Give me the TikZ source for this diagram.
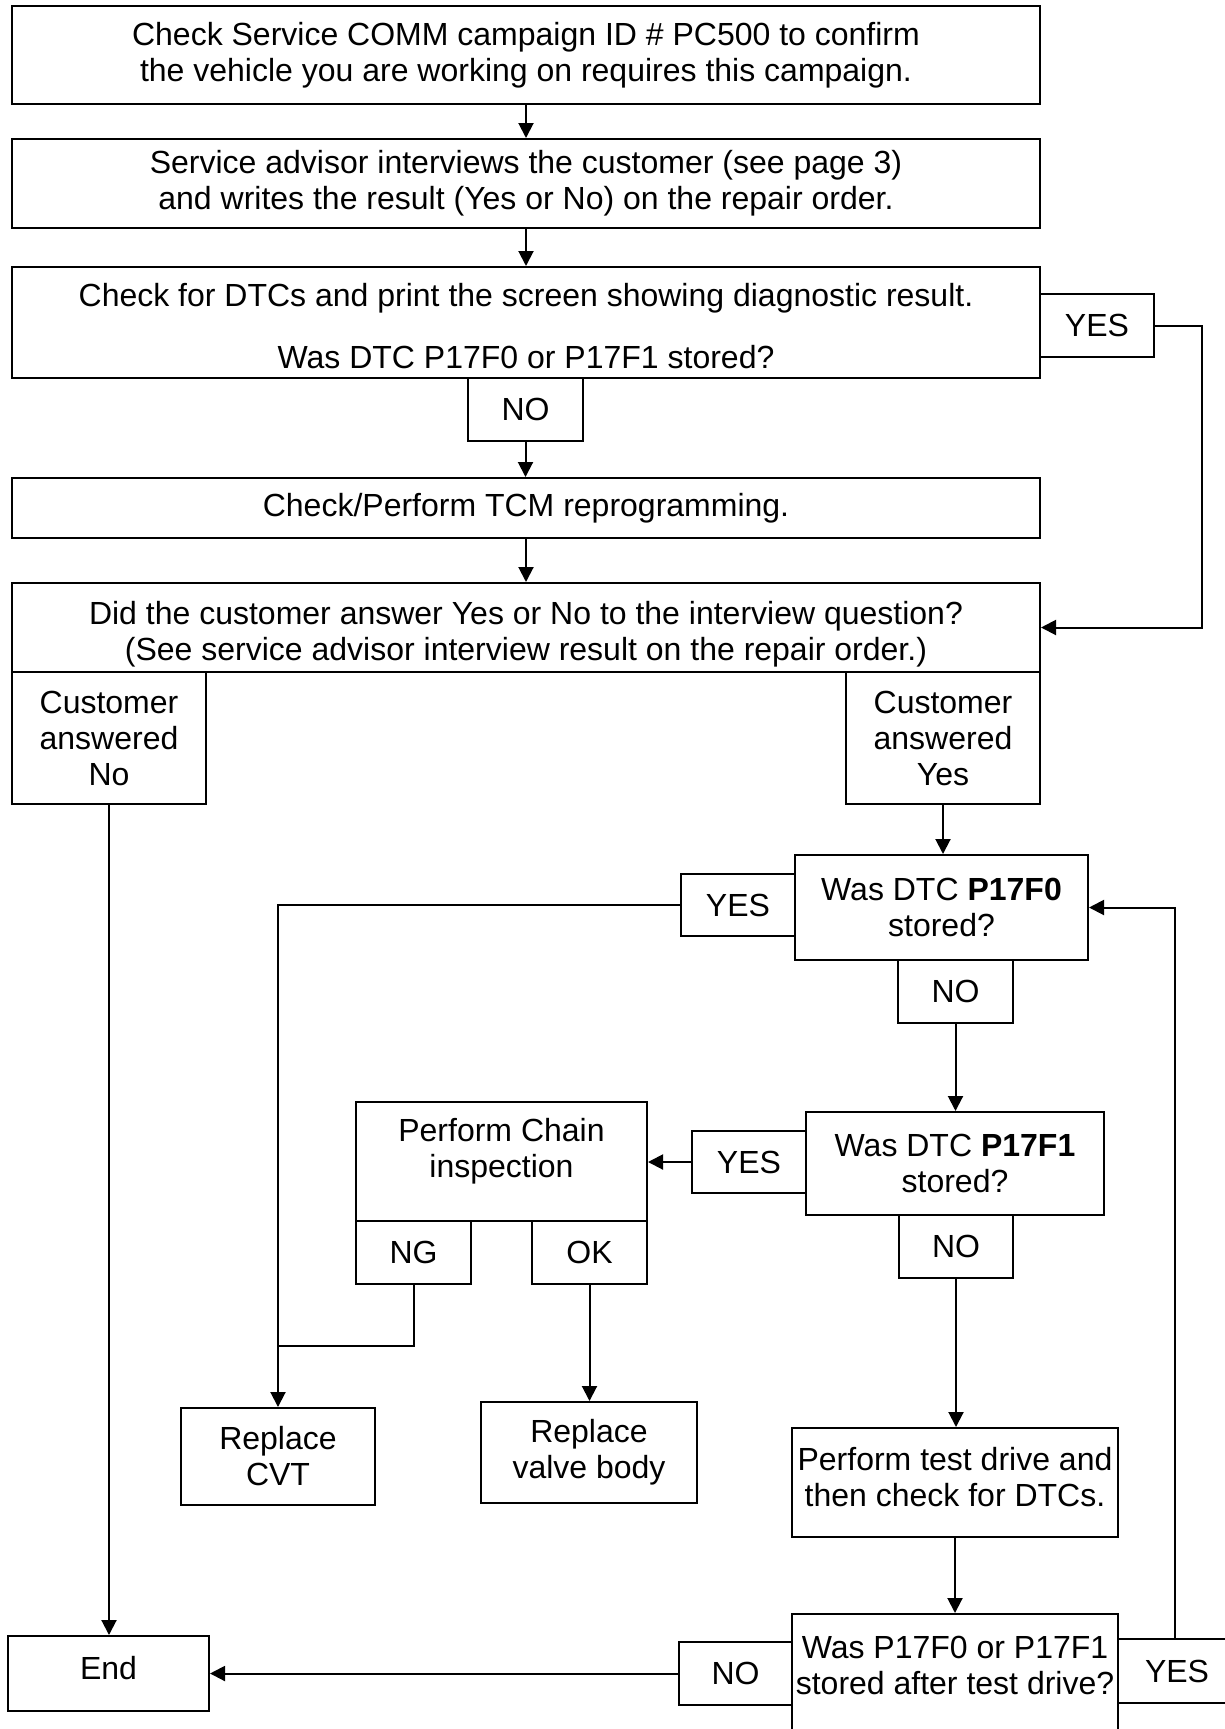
\documentclass[tikz,border=0pt]{standalone}
\usepackage{fontspec}
\setmainfont{Liberation Sans}
\usetikzlibrary{arrows.meta}
\newcommand\BX[6]{\node[box, minimum width={(#4-#2)*0.5pt}, minimum height={(#5-#3)*0.5pt}] (#1) at ({(#2+#4)/2},{(#3+#5)/2}) {#6};}
\begin{document}
\begin{tikzpicture}[x=0.5pt,y=-0.5pt,
  txt/.style={inner sep=0pt, align=center, font=\fontsize{16pt}{18pt}\selectfont},
  box/.style={txt, draw, line width=1pt},
  conn/.style={line width=1pt},
  arr/.style={conn, -{Triangle[length=7.5pt,width=7.5pt]}}]
\useasboundingbox (0,0) rectangle (1225,1729);
\clip (0,0) rectangle (1225,1729);
% main column
\BX{b1}{12}{6}{1040}{104}{Check Service COMM campaign ID \# PC500 to confirm\\the vehicle you are working on requires this campaign.}
\BX{b2}{12}{139}{1040}{228}{Service advisor interviews the customer (see page 3)\\and writes the result (Yes or No) on the repair order.}
\BX{b3}{12}{267}{1040}{378}{}
\node[txt] (b3t) at (526,326) {Check for DTCs and print the screen showing diagnostic result.\\[13pt]Was DTC P17F0 or P17F1 stored?};
\BX{yes1}{1040}{294}{1154}{357}{YES}
\BX{no1}{468}{378}{583}{441}{NO}
\BX{b4}{12}{478}{1040}{538}{Check/Perform TCM reprogramming.}
\BX{b5}{12}{583}{1040}{672}{}
\node[txt] (b5t) at (526,634) {Did the customer answer Yes or No to the interview question?\\(See service advisor interview result on the repair order.)};
\BX{cno}{12}{672}{206}{804}{Customer\\answered\\No}
\BX{cyes}{846}{672}{1040}{804}{Customer\\answered\\Yes}
% right branch
\BX{q1}{795}{855}{1088}{960}{Was DTC \textbf{P17F0}\\stored?}
\BX{yes2}{681}{874}{795}{936}{YES}
\BX{no2}{898}{960}{1013}{1023}{NO}
\BX{q2}{806}{1112}{1104}{1215}{Was DTC \textbf{P17F1}\\stored?}
\BX{yes3}{692}{1131}{806}{1193}{YES}
\BX{no3}{899}{1215}{1013}{1278}{NO}
\BX{chain}{356}{1102}{647}{1221}{}
\node[txt] (chaint) at (501.5,1151) {Perform Chain\\inspection};
\BX{ng}{356}{1221}{471}{1284}{NG}
\BX{ok}{532}{1221}{647}{1284}{OK}
\BX{cvt}{181}{1408}{375}{1505}{Replace\\CVT}
\BX{valve}{481}{1402}{697}{1503}{Replace\\valve body}
\BX{drive}{792}{1428}{1118}{1537}{}
\node[txt] (drivet) at (955,1477) {Perform test drive and\\then check for DTCs.};
\BX{q3}{792}{1614}{1118}{1790}{}
\node[txt] (q3t) at (955,1665) {Was P17F0 or P17F1\\stored after test drive?};
\BX{no4}{679}{1642}{792}{1705}{NO}
\BX{yes4}{1118}{1639}{1236}{1703}{YES}
\BX{end}{8}{1636}{209}{1711}{}
\node[txt] (endt) at (108.5,1668) {End};
% connectors
\draw[arr] (b1.south) -- (b2.north);
\draw[arr] (b2.south) -- (b3.north);
\draw[arr] (no1.south) -- (no1.south |- b4.north);
\draw[arr] (b4.south) -- (b5.north);
\draw[arr] (yes1.east) -| (1202,500) |- (b5.east);
\draw[arr] (cno.south) -- (cno.south |- end.north);
\draw[arr] (cyes.south) -- (cyes.south |- q1.north);
\draw[arr] (yes2.west) -| (cvt.north);
\draw[arr] (no2.south) -- (no2.south |- q2.north);
\draw[arr] (yes3.west) -- (yes3.west -| chain.east);
\coordinate (ngj) at (cvt.north |- 0,1346);
\draw[conn] (ng.south) |- (ngj);
\draw[arr] (ok.south) -- (ok.south |- valve.north);
\draw[arr] (no3.south) -- (no3.south |- drive.north);
\draw[arr] (drive.south) -- (q3.north);
\draw[arr] (no4.west) -- (no4.west -| end.east);
\coordinate (yes4t) at (1175,1639);
\draw[arr] (yes4t) |- (q1.east);
\end{tikzpicture}
\end{document}
